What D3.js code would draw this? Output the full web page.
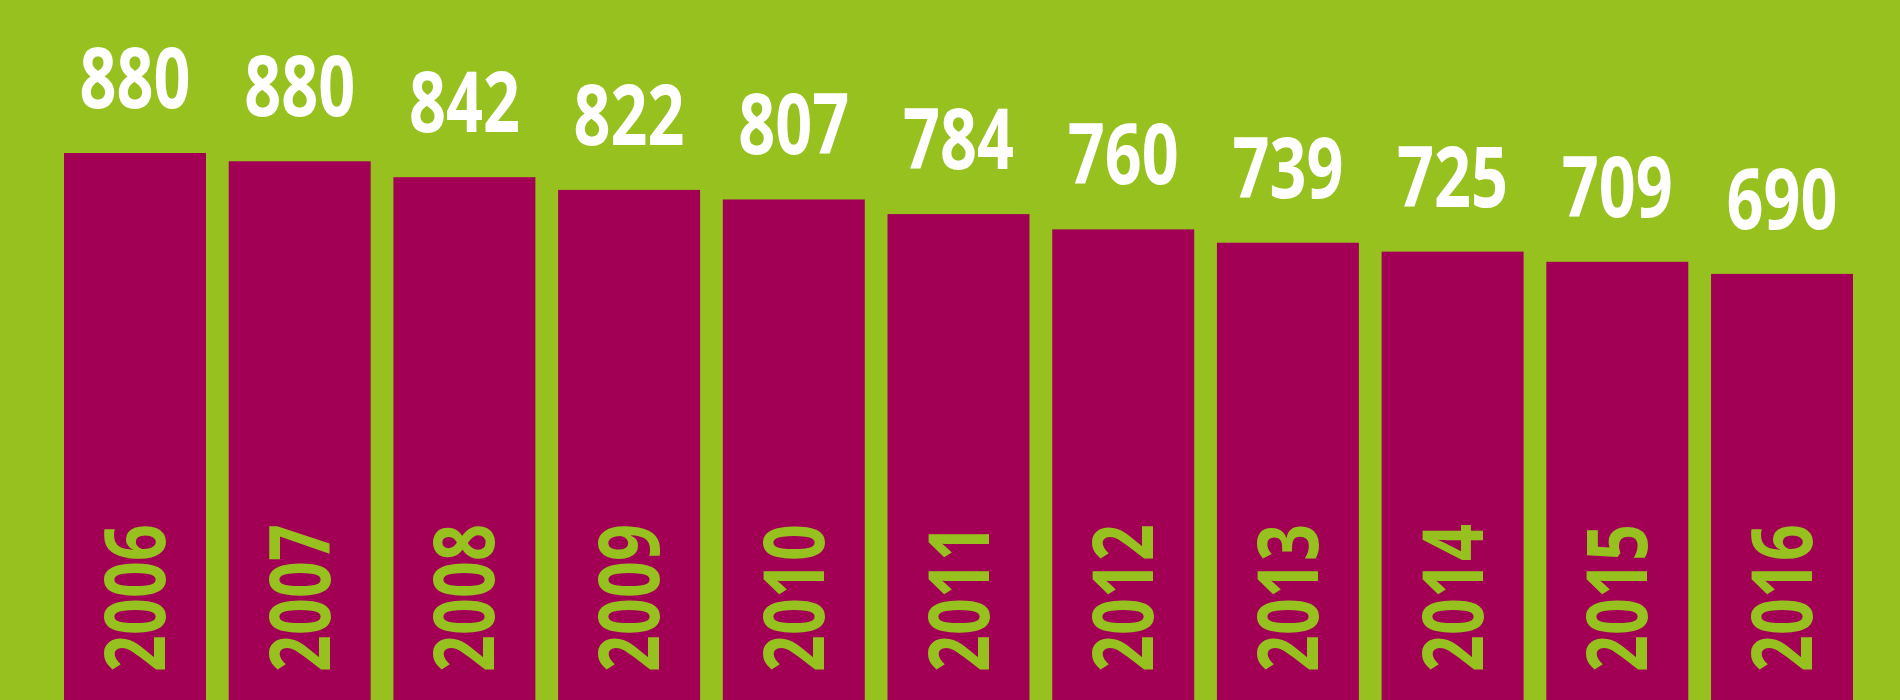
<!DOCTYPE html>
<html>
<head>
<meta charset="utf-8">
<script src="https://cdnjs.cloudflare.com/ajax/libs/d3/7.8.5/d3.min.js"></script>
<style>
  html, body { margin: 0; padding: 0; background: #97c11f; }
  svg { display: block; }
  text { font-family: "Noto Sans", "Open Sans", sans-serif; font-weight: bold; }
</style>
</head>
<body>
<svg id="chart"></svg>
<script>
// data
var years = ["2006", "2007", "2008", "2009", "2010", "2011", "2012", "2013", "2014", "2015", "2016"];
var values = [880, 880, 842, 822, 807, 784, 760, 739, 725, 709, 690];
// bar lengths as drawn (the 2007 bar is drawn shorter than its label says)
var barValues = [880, 867, 842, 822, 807, 784, 760, 739, 725, 709, 690];

var width = 1900;
var height = 700;
var squeeze = 0.77;   // no condensed face installed, so squash the glyphs

var svg = d3.select("#chart")
    .attr("width", width)
    .attr("height", height);

// green background
svg.append("rect")
    .attr("width", width)
    .attr("height", height)
    .attr("fill", "#97c11f");

// bars sit on the bottom edge, base is a little below the window
var x = d3.scaleBand()
    .domain(years)
    .range([64, 1853])
    .paddingInner(0.138)
    .paddingOuter(0);

var y = d3.scaleLinear()
    .domain([0, 880])
    .range([713, 153]);

var bars = svg.selectAll("g.bar")
    .data(years)
    .enter()
    .append("g")
    .attr("class", "bar");

bars.append("rect")
    .attr("x", function(d) { return x(d); })
    .attr("y", function(d, i) { return y(barValues[i]); })
    .attr("width", x.bandwidth())
    .attr("height", function(d, i) { return height - y(barValues[i]); })
    .attr("fill", "#a10055");

// value on top of each bar
bars.append("text")
    .attr("transform", function(d, i) {
      return "translate(" + (x(d) + x.bandwidth() / 2) + "," + (y(barValues[i]) - 45) + ") scale(" + squeeze + ",1)";
    })
    .attr("text-anchor", "middle")
    .attr("fill", "#ffffff")
    .style("font-size", "84px")
    .text(function(d, i) { return values[i]; });

// year written upward inside the bar
bars.append("text")
    .attr("transform", function(d) {
      return "translate(" + (x(d) + x.bandwidth() / 2 + 30) + "," + 672 + ") rotate(-90) scale(" + squeeze + ",1)";
    })
    .attr("text-anchor", "start")
    .attr("fill", "#97c11f")
    .style("font-size", "84px")
    .text(function(d) { return d; });
</script>
</body>
</html>
